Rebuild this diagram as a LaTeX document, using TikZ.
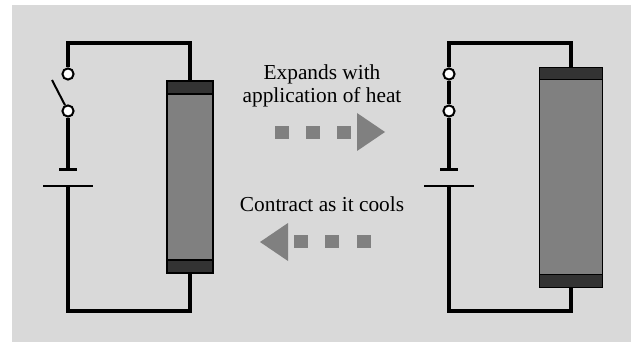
\documentclass[tikz,border=0pt]{standalone}
\usepackage{fontspec}
\setmainfont{Liberation Serif}
\usepackage{tikz}
\usetikzlibrary{calc}
\definecolor{panelgray}{HTML}{D9D9D9}
\definecolor{bargray}{HTML}{808080}
\definecolor{capgray}{HTML}{333333}

\begin{document}
\begin{tikzpicture}[
    x=0.75pt, y=-0.75pt,
    wire/.style={line width=2.3pt},
    terminal/.style={circle, draw, fill=white, line width=1.5pt, inner sep=0pt, minimum size=8.4pt},
    plate/.style={fill=black, inner sep=0pt, minimum height=1.7pt},
    bar/.style={draw, fill=bargray, line width=0.9pt, inner sep=0pt},
    barcap/.style={draw, fill=capgray, line width=0.9pt, inner sep=0pt},
    caption/.style={font=\fontsize{16}{17.25}\selectfont, align=center, anchor=base},
    dot/.style={fill=bargray, inner sep=0pt, minimum size=10.2pt}
  ]
    \useasboundingbox (0,0) rectangle (631,342);
    \fill[panelgray] (12,5) rectangle (631,342);

    % left circuit, switch open
    \node[bar, minimum width=34.5pt, minimum height=134pt] (lbar) at (190,177) {};
    \node[barcap, minimum width=34.5pt, minimum height=9.7pt] (ltopcap) at (190,87.5) {};
    \node[barcap, minimum width=34.5pt, minimum height=9.7pt] (lbotcap) at (190,266.5) {};
    \node[terminal] (lterma) at (68,74) {};
    \node[terminal] (ltermb) at (68,111) {};
    \node[plate, minimum width=14pt] (lshort) at (68,169.5) {};
    \node[plate, minimum width=37.5pt] (llong) at (68,186) {};
    \coordinate (ltop) at (68,43);
    \coordinate (lbot) at (68,311);
    \coordinate (larm) at (52,80);

    \draw[wire] (lterma) -- (ltop) -| (ltopcap);
    \draw[wire] (ltermb) -- (lshort);
    \draw[wire] (llong) -- (lbot) -| (lbotcap);
    \draw[line width=1.5pt] (ltermb) -- (larm);

    % right circuit, switch closed
    \node[bar, minimum width=47pt, minimum height=155pt] (rbar) at (571,177) {};
    \node[barcap, minimum width=47pt, minimum height=9.2pt] (rtopcap) at (571,73.5) {};
    \node[barcap, minimum width=47pt, minimum height=9.2pt] (rbotcap) at (571,281) {};
    \node[terminal] (rterma) at (449,74) {};
    \node[terminal] (rtermb) at (449,111) {};
    \node[plate, minimum width=14pt] (rshort) at (449,169.5) {};
    \node[plate, minimum width=37.5pt] (rlong) at (449,186) {};
    \coordinate (rtop) at (449,43);
    \coordinate (rbot) at (449,311);

    \draw[wire] (rterma) -- (rtop) -| (rtopcap);
    \draw[wire] (rterma) -- (rtermb);
    \draw[wire] (rtermb) -- (rshort);
    \draw[wire] (rlong) -- (rbot) -| (rbotcap);

    % captions
    \node[caption] (expands) at (322,80) {Expands with};
    \node[caption] (heat) at (322,103) {application of heat};
    \node[caption] (contract) at (322,211) {Contract as it cools};

    % dotted arrows
    \foreach \x in {282,313,344} {\node[dot] (heatdot\x) at (\x,132.5) {};};
    \fill[bargray] (357,113) -- (385,132) -- (357,151) -- cycle;
    \foreach \x in {301,332,364} {\node[dot] (colddot\x) at (\x,241.5) {};};
    \fill[bargray] (288,223) -- (260,242) -- (288,261) -- cycle;
\end{tikzpicture}
\end{document}
